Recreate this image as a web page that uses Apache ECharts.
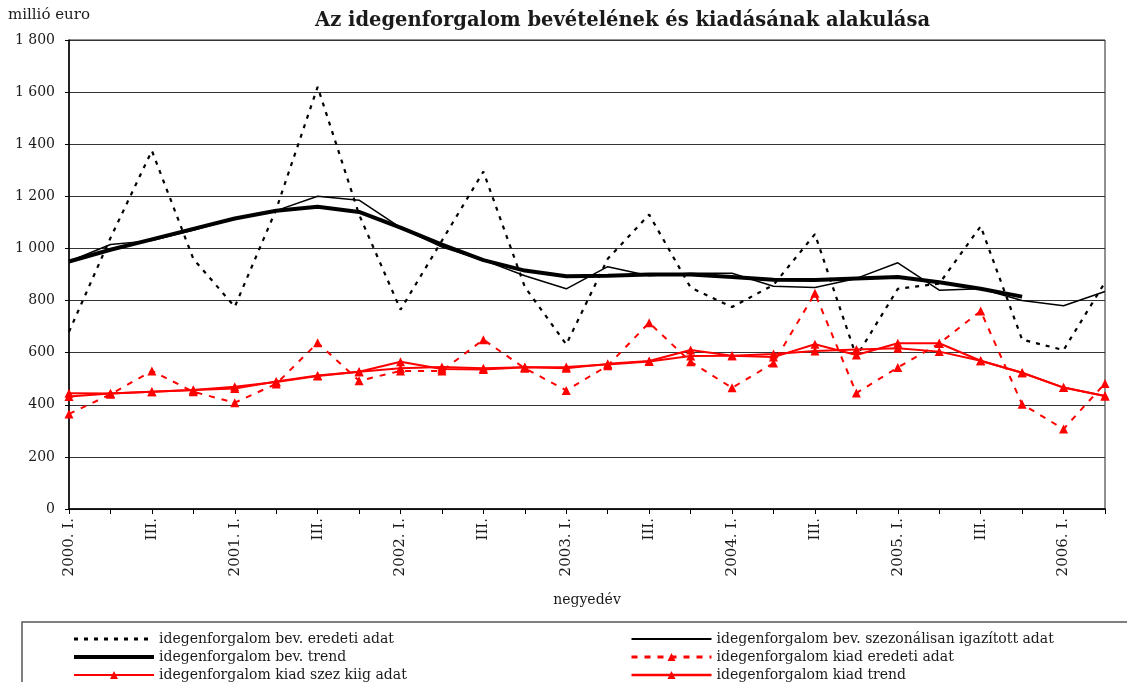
<!DOCTYPE html>
<html>
<head>
<meta charset="utf-8">
<script src="https://cdn.jsdelivr.net/npm/echarts@6/dist/echarts.min.js"></script>
<style>
html,body{margin:0;padding:0;background:#fff;}
#chart{width:1127px;height:682px;}
</style>
</head>
<body>
<div id="chart"></div>
<script>
const years = ['2000','2001','2002','2003','2004','2005','2006'];
const quarterNames = ['I.','II.','III.','IV.'];
const categories = [];
years.forEach(function(y){
  quarterNames.forEach(function(q, qi){
    if (y === '2006' && qi > 1) return;
    categories.push(qi === 0 ? y + '. ' + q : q);
  });
});

const yTicks = [0,200,400,600,800,1000,1200,1400,1600,1800];

const bevEredeti = [680,1040,1375,960,776,1150,1620,1130,765,1030,1295,852,632,960,1130,850,775,860,1055,585,845,865,1085,650,610,870];
const bevSzez    = [950,1015,1030,1070,1115,1145,1200,1185,1080,1005,955,895,845,930,895,905,905,855,850,885,945,840,845,800,780,835];
const bevTrend   = [950,995,1035,1075,1115,1145,1160,1140,1080,1015,955,915,893,895,900,900,890,880,879,885,890,870,845,815,null,null];
const kiadEredeti= [365,440,530,450,408,480,638,492,530,530,650,540,455,550,715,565,465,560,828,445,543,635,760,402,307,482];
const kiadSzez   = [444,443,450,457,462,489,512,527,565,537,535,544,540,557,568,610,588,583,632,591,636,636,569,523,466,434];
const kiadTrend  = [432,443,450,457,469,487,510,527,540,545,540,544,545,555,566,587,588,595,606,612,617,604,569,523,466,434];

const names = [
  'idegenforgalom bev. eredeti adat',
  'idegenforgalom bev. szezonálisan igazított adat',
  'idegenforgalom bev. trend',
  'idegenforgalom kiad eredeti adat',
  'idegenforgalom kiad szez kiig adat',
  'idegenforgalom kiad trend'
];

const FONT = 'DejaVu Serif';
const TXT = '#1a1a1a';

function fmt(v){
  if (v >= 1000) { return Math.floor(v/1000) + ' ' + String(v % 1000).padStart(3,'0'); }
  return String(v);
}

const chart = echarts.init(document.getElementById('chart'), null, {renderer:'canvas'});

const legendText = {fontFamily: FONT, fontSize: 14, color: TXT, lineHeight: 16};
const noSym = {opacity: 0};

chart.setOption({
  animation: false,
  backgroundColor: '#fff',
  title: {
    text: 'Az idegenforgalom bevételének és kiadásának alakulása',
    left: 310, top: 6,
    textStyle: {fontFamily: FONT, fontSize: 19.5, fontWeight: 'bold', color: TXT}
  },
  graphic: [
    {type:'text', left: 8, top: 8, style:{text:'millió euro', fontFamily: FONT, fontSize: 15, fill: TXT}},
    {type:'rect', shape:{x:22, y:622, width:1120, height:80}, style:{fill:'none', stroke:'#555', lineWidth:1.5}, z: -1}
  ],
  grid: {left: 69, right: 22, top: 40, bottom: 173, show: true, borderColor: '#222', borderWidth: 1},
  legend: [
    {
      orient: 'vertical', left: 67, top: 626, height: 80, itemWidth: 80, itemHeight: 10, itemGap: 2,
      textStyle: legendText,
      data: [
        {name: names[0], itemStyle: noSym, lineStyle: {width: 3}},
        {name: names[2], itemStyle: noSym, lineStyle: {width: 4}},
        names[4]
      ]
    },
    {
      orient: 'vertical', left: 625, top: 626, height: 80, itemWidth: 80, itemHeight: 10, itemGap: 2,
      textStyle: legendText,
      data: [
        {name: names[1], itemStyle: noSym, lineStyle: {width: 2}},
        {name: names[3], lineStyle: {width: 3}},
        {name: names[5], lineStyle: {width: 2.5}}
      ]
    }
  ],
  xAxis: {
    type: 'category',
    data: categories,
    boundaryGap: false,
    name: 'negyedév',
    nameLocation: 'middle',
    nameGap: 84,
    nameTextStyle: {fontFamily: FONT, fontSize: 14, color: TXT},
    axisLine: {lineStyle: {color: '#000', width: 1.5}},
    axisTick: {show: true, interval: 0, length: 5, lineStyle: {color: '#000'}},
    axisLabel: {interval: 1, rotate: 90, margin: 9, fontFamily: FONT, fontSize: 15, color: TXT},
    splitLine: {show: false}
  },
  yAxis: {
    type: 'value',
    min: yTicks[0], max: yTicks[yTicks.length-1], interval: 200,
    axisLine: {show: true, lineStyle: {color: '#000', width: 1.5}},
    axisTick: {show: true, length: 4, lineStyle: {color: '#000'}},
    axisLabel: {margin: 14, fontFamily: FONT, fontSize: 14, color: TXT, formatter: fmt},
    splitLine: {show: true, lineStyle: {color: '#333', width: 1}}
  },
  series: [
    {name: names[0], type: 'line', data: bevEredeti, symbol: 'none', lineStyle: {color: '#000', width: 2.2, type: [4, 6]}, itemStyle: {color: '#000'}, z: 3},
    {name: names[1], type: 'line', data: bevSzez, symbol: 'none', lineStyle: {color: '#000', width: 1.5}, itemStyle: {color: '#000'}, z: 4},
    {name: names[2], type: 'line', data: bevTrend, symbol: 'none', lineStyle: {color: '#000', width: 4}, itemStyle: {color: '#000'}, z: 5},
    {name: names[3], type: 'line', data: kiadEredeti, symbol: 'triangle', symbolSize: 9, lineStyle: {color: '#ff0000', width: 2, type: [6, 7]}, itemStyle: {color: '#ff0000'}, z: 6},
    {name: names[4], type: 'line', data: kiadSzez, symbol: 'triangle', symbolSize: 9, lineStyle: {color: '#ff0000', width: 2}, itemStyle: {color: '#ff0000'}, z: 7},
    {name: names[5], type: 'line', data: kiadTrend, symbol: 'triangle', symbolSize: 9, lineStyle: {color: '#ff0000', width: 2}, itemStyle: {color: '#ff0000'}, z: 8}
  ]
});
</script>
</body>
</html>
